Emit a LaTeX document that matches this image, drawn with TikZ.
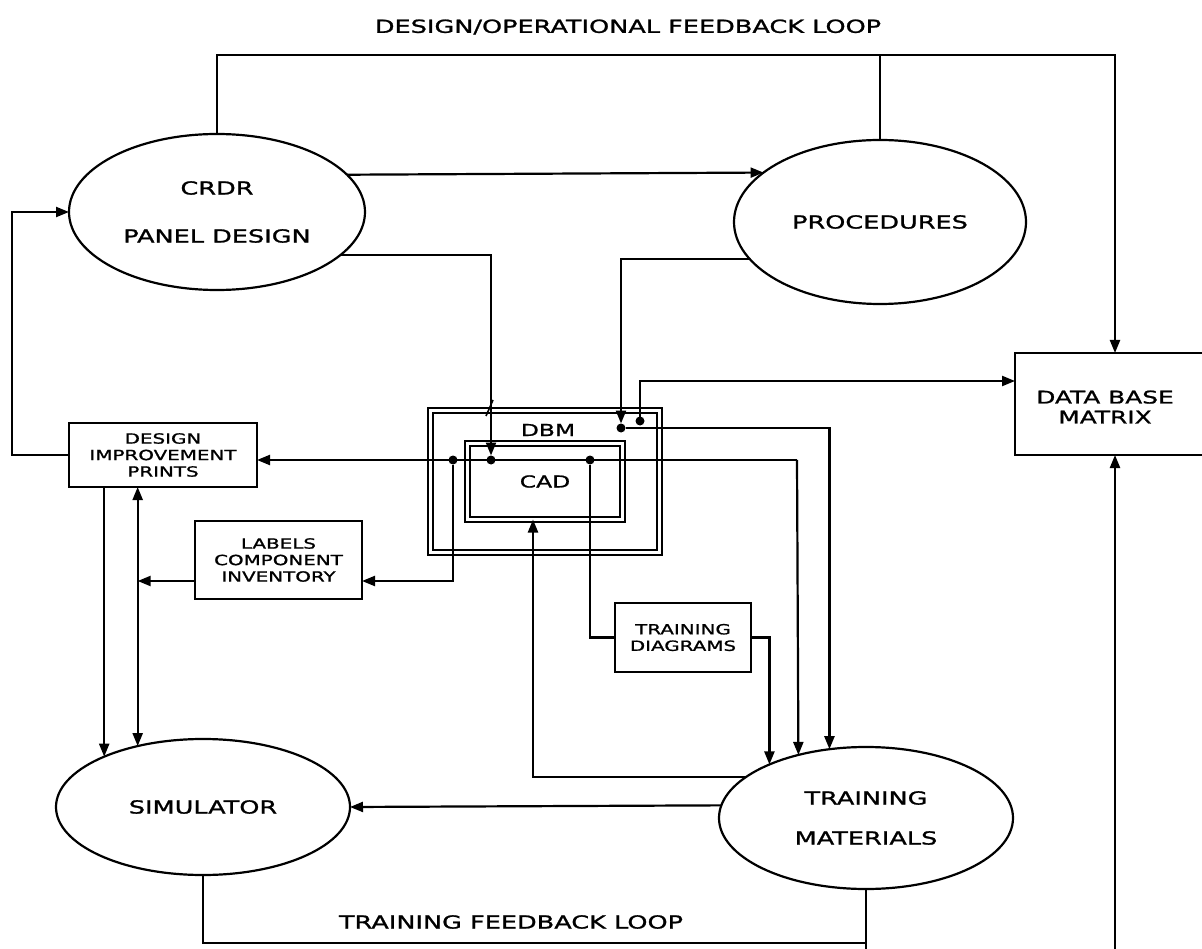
\documentclass[tikz,border=0pt]{standalone}
\usepackage{fontspec}
\setmainfont{DejaVu Sans}[FakeStretch=1.42,FakeBold=1.2]
\usetikzlibrary{shapes.geometric,arrows.meta}
\begin{document}
\begin{tikzpicture}[x=1pt,y=-1pt,
  line width=2.2pt,
  every node/.style={inner sep=0pt, outer sep=0pt},
  arr/.style={-{Triangle[length=13pt,width=10pt]}},
  arrs/.style={{Triangle[length=13pt,width=10pt]}-{Triangle[length=13pt,width=10pt]}},
  oval/.style={draw, ellipse, line width=2.2pt, align=center},
  box/.style={draw, rectangle, line width=2.4pt, align=center},
  dblbox/.style={draw, rectangle, double, double distance=3pt, line width=1.8pt},
  jdot/.style={circle, fill, minimum size=9pt},
  big/.style={font=\fontsize{18}{20}\selectfont},
  small/.style={font=\fontsize{14}{16.5}\selectfont},
]
\fill[white] (0,0) rectangle (1202,949);
\useasboundingbox (0,0) rectangle (1202,949);
\clip (0,0) rectangle (1202,949);

% headings
\node[font=\fontsize{18}{20}\selectfont] (title) at (628,27) {DESIGN/OPERATIONAL FEEDBACK LOOP};
\node[big] (tfl) at (511,922) {TRAINING FEEDBACK LOOP};

% main activities
\node[oval, big, minimum width=296pt, minimum height=156pt] (crdr) at (217,212) {CRDR\\[28pt]PANEL DESIGN};
\node[oval, big, minimum width=292pt, minimum height=164pt] (proc) at (880,222) {PROCEDURES};
\node[oval, big, minimum width=294pt, minimum height=136pt] (sim) at (203,807) {SIMULATOR};
\node[oval, big, minimum width=294pt, minimum height=142pt] (tm) at (866,818) {TRAINING\\[20pt]MATERIALS};

% products
\node[box, small, minimum width=188pt, minimum height=64pt] (dip) at (163,455) {DESIGN\\IMPROVEMENT\\PRINTS};
\node[box, small, minimum width=167pt, minimum height=78pt] (lci) at (278.5,560) {LABELS\\COMPONENT\\INVENTORY};
\node[box, small, minimum width=136pt, minimum height=69pt] (td) at (683,637.5) {TRAINING\\DIAGRAMS};
\node[box, minimum width=200pt, minimum height=102pt] (dbmx) at (1115,404) {};
\node[font=\fontsize{17.5}{20}\selectfont, align=center] (dbmxt) at (1105,407) {DATA BASE\\MATRIX};

% DBM / CAD core
\node[dblbox, minimum width=229pt, minimum height=142pt] (dbm) at (545,481.5) {};
\node[dblbox, minimum width=155pt, minimum height=76pt, font=\fontsize{16.5}{20}\selectfont] (cad) at (545,481.5) {CAD};
\node[font=\fontsize{16.5}{20}\selectfont] (dbmt) at (548,430) {DBM};

% junctions
\node[jdot] (j1) at (453,460) {};
\node[jdot] (j2) at (491,460) {};
\node[jdot] (j3) at (590,460) {};
\node[jdot] (j4) at (621,428) {};
\node[jdot] (j5) at (640,421) {};

\coordinate (fbTop) at (0,55);
\coordinate (fbBot) at (0,943);
\coordinate (busE) at (797,460);

% design/operational feedback loop
\draw[arr] (crdr.north) |- (fbTop -| dbmx.north) -- (dbmx.north);
\draw (proc.north) -- (proc.north |- fbTop);

% flows
\draw[arr] (crdr.16.9) -- (proc.157.3);
\draw[arr] (crdr.-19.8) -| (j2);
\draw[line width=1.6pt] (486,416) -- (493,400);
\draw[arr] (proc.196.4) -| (j4);
\draw[arr] (j4) -| (tm.118.3);
\draw[arr] (j5) |- ([yshift=23pt]dbmx.west);
\draw[arr] (busE) -- (dip.east |- busE);
\draw[arr] (busE) -- (tm.137.7);
\draw[arr] (j1) |- ([yshift=-21pt]lci.east);
\draw[arr] ([yshift=-21pt]lci.west) -- ([yshift=-21pt]lci.west -| sim.137.4);
\draw[arr] (dip.south -| sim.153.5) -- (sim.153.5);
\draw[arrs] (dip.south -| sim.137.4) -- (sim.137.4);
\draw[arr] (dip.west) -- ++(-57,0) |- (crdr.west);
\draw (j3) |- (td.west);
\draw[arr] (td.east) -| (tm.151.6);
\draw[arr] (tm.161.8) -| ([xshift=-12pt]cad.south);
\draw[arr] (tm.175.7) -- (sim.east);

% training feedback loop
\draw (sim.south) |- (fbBot -| tm.south) -- (tm.south);
\draw (tm.south) -- ++(0,70);
\draw[arr] (dbmx.south |- 0,960) -- (dbmx.south);
\end{tikzpicture}
\end{document}
